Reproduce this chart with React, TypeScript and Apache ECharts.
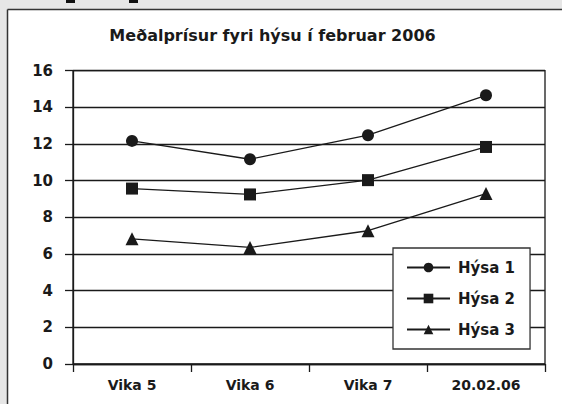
import React, { useEffect, useRef } from "react";
import * as echarts from "echarts";

const categories = ["Vika 5", "Vika 6", "Vika 7", "20.02.06"];
const hysa1 = [12.17, 11.17, 12.48, 14.66];
const hysa2 = [9.57, 9.25, 10.03, 11.84];
const hysa3 = [6.83, 6.36, 7.27, 9.3];
const seriesNames = ["Hýsa 1", "Hýsa 2", "Hýsa 3"];
const titleText = "Meðalprísur fyri hýsu í februar 2006";

const FONT = "DejaVu Sans";
const INK = "#1a1a1a";

export default function App() {
  const ref = useRef<HTMLDivElement>(null);
  useEffect(() => {
    if (!ref.current) return;
    const chart = echarts.init(ref.current, null, { renderer: "svg" });
    const mk = (name: string, data: number[], symbol: string, size: number) => ({
      name,
      type: "line",
      data,
      symbol,
      symbolSize: size,
      lineStyle: { color: INK, width: 1.3 },
      itemStyle: { color: INK },
      z: 5,
    });
    chart.setOption({
      animation: false,
      backgroundColor: "#e6e6e6",
      graphic: [
        { type: "rect", shape: { x: 7.5, y: 9.5, width: 554.5, height: 394.5 }, style: { fill: "#ffffff" }, z: -10 },
        { type: "line", shape: { x1: 7.5, y1: 9.5, x2: 562, y2: 9.5 }, style: { stroke: "#333333", lineWidth: 1.5 }, z: -9 },
        { type: "line", shape: { x1: 7.5, y1: 9.5, x2: 7.5, y2: 404 }, style: { stroke: "#333333", lineWidth: 1.5 }, z: -9 },
        { type: "rect", shape: { x: 66, y: 0, width: 9, height: 3 }, style: { fill: "#111111" }, z: -10 },
        { type: "rect", shape: { x: 129, y: 0, width: 9, height: 3 }, style: { fill: "#111111" }, z: -10 },
        {
          type: "text",
          x: 272.5,
          y: 35,
          style: {
            text: titleText,
            fill: INK,
            font: `bold 16px "${FONT}"`,
            textAlign: "center",
            textVerticalAlign: "middle",
          },
          z: 10,
        },
      ],
      grid: {
        left: 73,
        top: 70.7,
        width: 472,
        height: 293.3,
        show: true,
        borderColor: INK,
        borderWidth: 1.3,
        backgroundColor: "transparent",
      },
      legend: {
        orient: "vertical",
        left: 393,
        top: 248,
        padding: [12, 15, 12, 13],
        itemWidth: 43,
        itemHeight: 12,
        itemGap: 16,
        backgroundColor: "#ffffff",
        borderColor: "#333333",
        borderWidth: 1.3,
        textStyle: { color: INK, fontFamily: FONT, fontWeight: "bold", fontSize: 15, padding: [0, 0, 0, 3] },
        data: seriesNames,
      },
      xAxis: {
        type: "category",
        data: categories,
        boundaryGap: true,
        axisLine: { lineStyle: { color: INK, width: 1.3 } },
        axisTick: { show: true, length: 8, inside: false, lineStyle: { color: INK, width: 1.3 } },
        axisLabel: { color: INK, fontFamily: FONT, fontWeight: "bold", fontSize: 14, margin: 14 },
      },
      yAxis: {
        type: "value",
        min: 0,
        max: 16,
        interval: 2,
        axisLine: { show: true, lineStyle: { color: INK, width: 1.3 } },
        axisTick: { show: true, length: 8, inside: false, lineStyle: { color: INK, width: 1.3 } },
        axisLabel: { color: INK, fontFamily: FONT, fontWeight: "bold", fontSize: 15, margin: 20, align: "right" },
        splitLine: { show: true, lineStyle: { color: INK, width: 1.3 } },
      },
      series: [
        mk(seriesNames[0], hysa1, "circle", 12),
        mk(seriesNames[1], hysa2, "rect", 12),
        mk(seriesNames[2], hysa3, "triangle", 13),
      ],
    });
    return () => chart.dispose();
  }, []);
  return (
    <div
      ref={ref}
      style={{ position: "fixed", left: 0, top: 0, width: 562, height: 404 }}
    />
  );
}
